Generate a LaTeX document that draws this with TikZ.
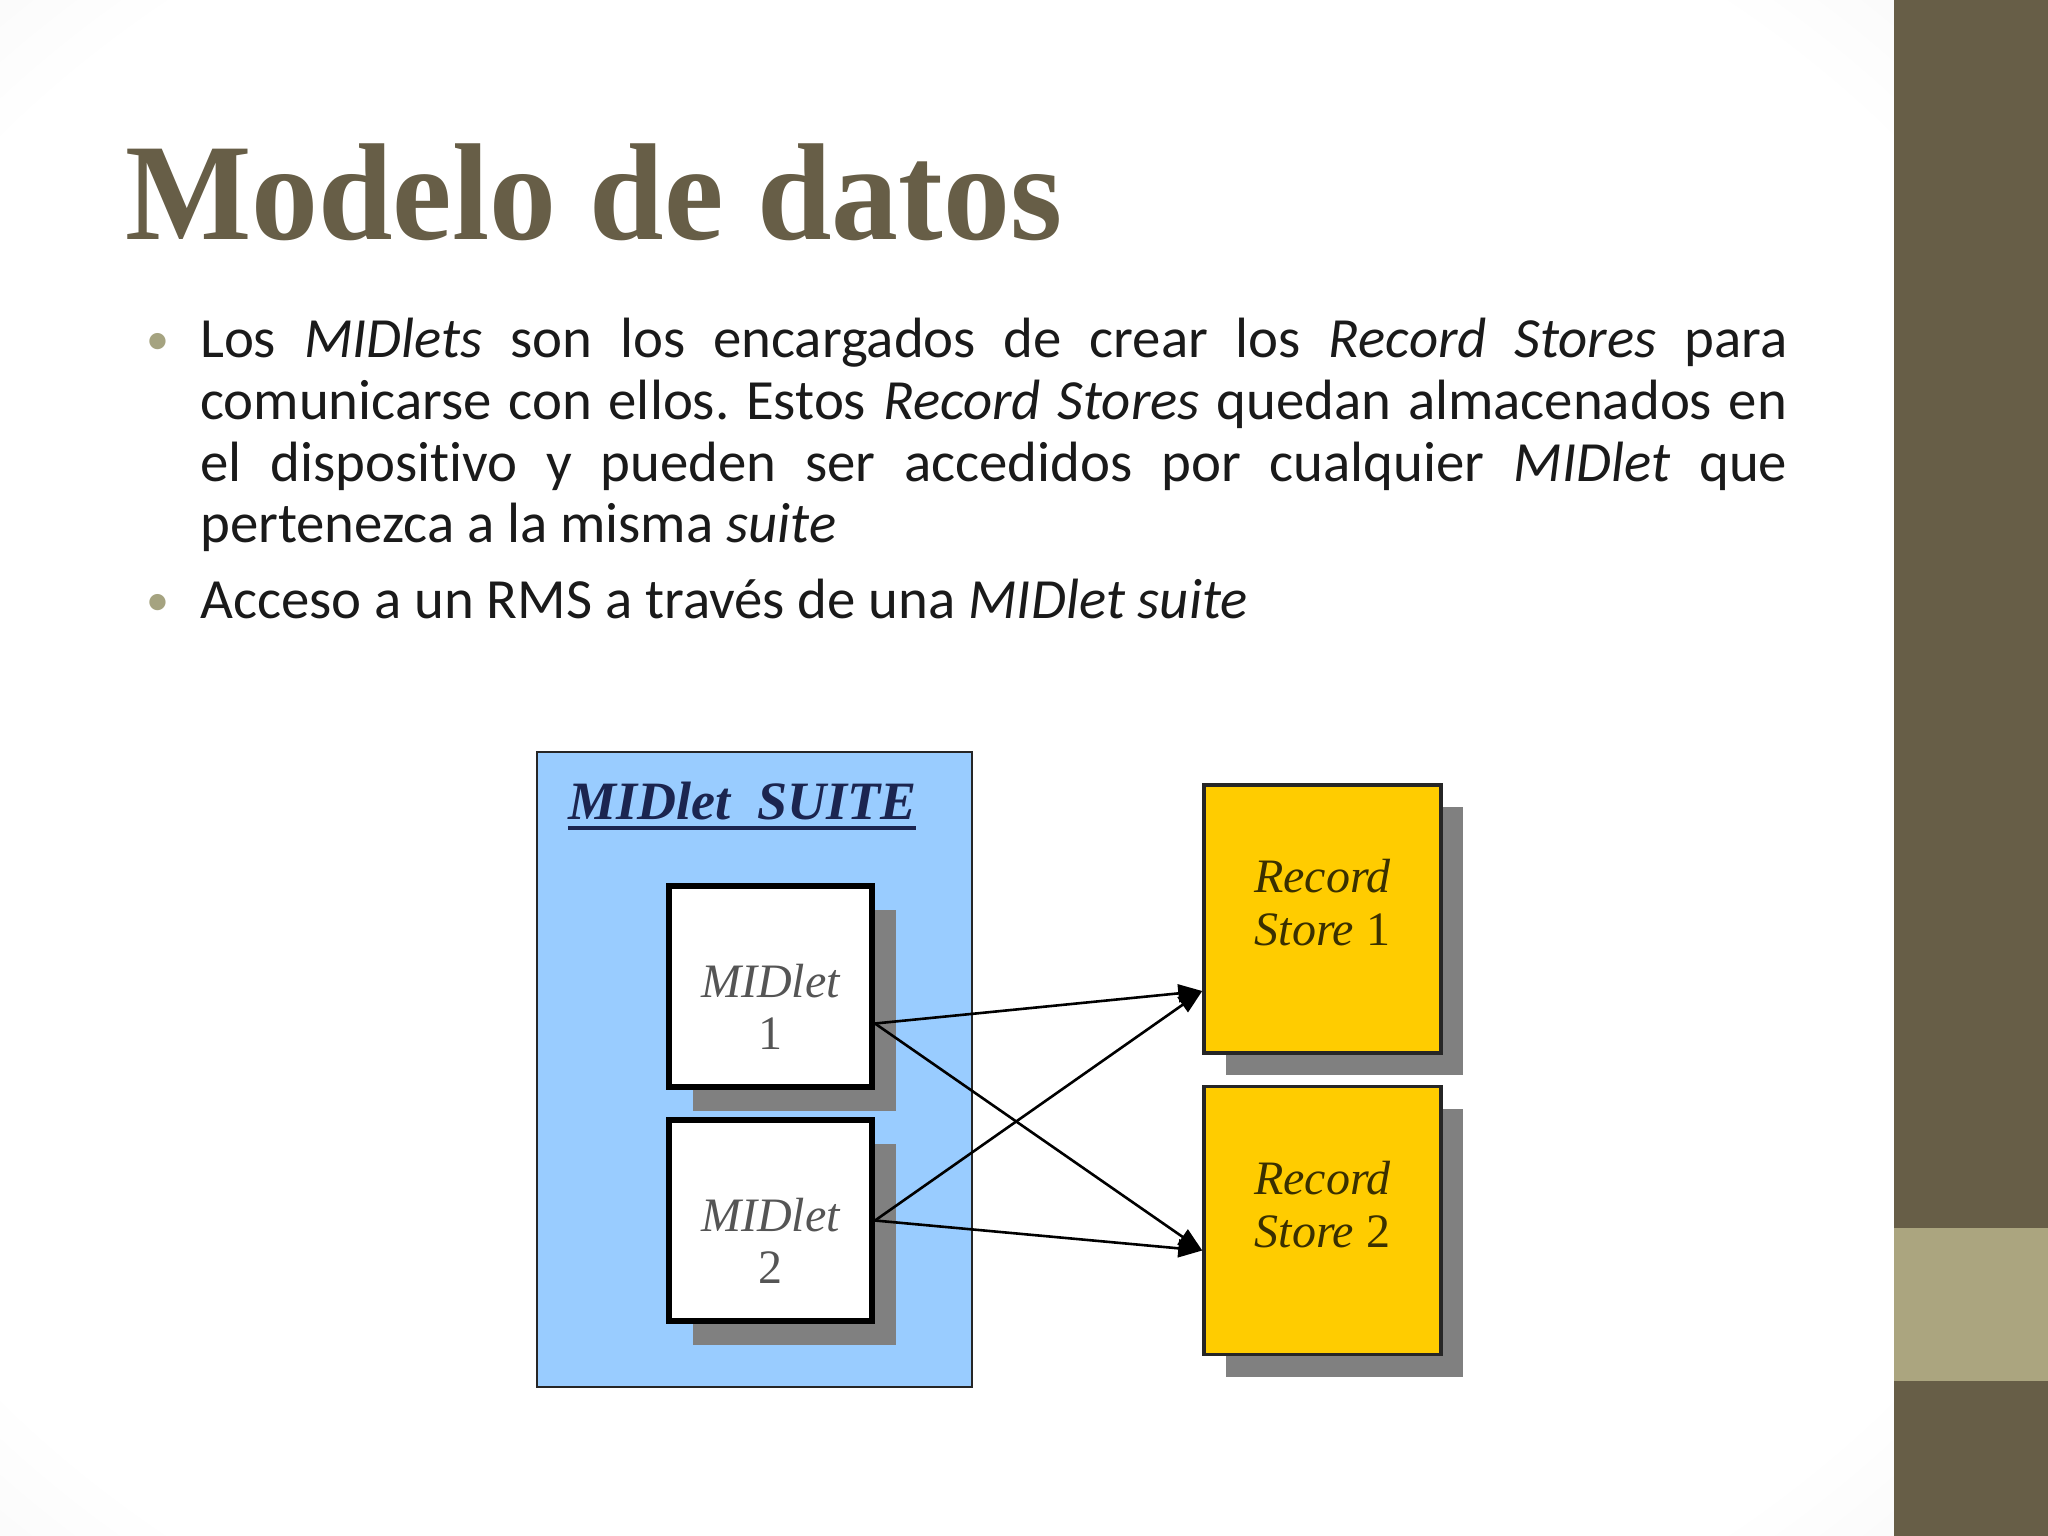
\documentclass[tikz,border=0pt]{standalone}
\usepackage{fontspec}
\usepackage{graphicx}
\setmainfont{Carlito}[Ligatures=NoCommon]
\newfontfamily\titlefont{Liberation Serif}
\newfontfamily\timesfont{Liberation Serif}
\usetikzlibrary{arrows.meta,shadows}
\definecolor{barc}{HTML}{675E47}
\definecolor{bandc}{HTML}{ABA57F}
\definecolor{titlec}{HTML}{675E47}
\definecolor{bulletc}{HTML}{A5A380}
\definecolor{bodyc}{HTML}{1A1A1A}
\definecolor{suiteblue}{HTML}{99CCFF}
\definecolor{rsyellow}{HTML}{FFCC00}
\definecolor{shadowc}{HTML}{808080}
\definecolor{suitetext}{HTML}{1B2550}
\definecolor{midtextc}{HTML}{555555}
\definecolor{rstextc}{HTML}{3A3000}
\pgfdeclareradialshading{vign}{\pgfpoint{0bp}{0bp}}{color(0bp)=(white);color(32bp)=(white);color(72bp)=(black!20)}
\tikzset{
  bodyline/.style={anchor=base west,inner sep=0pt,text=bodyc,font=\fontsize{56.8}{61.5}\selectfont\frenchspacing},
  bul/.style={anchor=base,inner sep=0pt,text=bulletc,font=\fontsize{46}{50}\selectfont},
  midbox/.style={draw=black,line width=6pt,fill=white,minimum width=203pt,minimum height=201pt,
    general shadow={fill=shadowc,shadow xshift=24pt,shadow yshift=-24pt}},
  rsbox/.style={draw=black!85,line width=3.5pt,fill=rsyellow,minimum width=237pt,minimum height=268pt,
    general shadow={fill=shadowc,shadow xshift=22pt,shadow yshift=-22pt}},
  midtext/.style={align=center,text=midtextc,font=\timesfont\itshape\fontsize{48}{52}\selectfont},
  rstext/.style={align=center,text=rstextc,font=\timesfont\itshape\fontsize{48}{53}\selectfont},
  conn/.style={line width=2.6pt,black,-{Triangle[length=24pt,width=18pt]}}
}
\begin{document}
\begin{tikzpicture}[x=1pt,y=-1pt]
\useasboundingbox (0,0) rectangle (2048,1536);
\shade[shading=vign] (0,0) rectangle (1894,1536);
\fill[barc] (1894,0) rectangle (2048,1536);
\fill[bandc] (1894,1228) rectangle (2048,1381);

% title
\node[anchor=base west,inner sep=0pt,text=titlec,font=\titlefont\bfseries\fontsize{138}{140}\selectfont] (title) at (125,239) {\scalebox{0.97}[1]{Modelo de datos}};

% bullets
\node[bul] (b1) at (158,354) {•};
\node[bul] (b2) at (158,615) {•};
\node[bodyline] (l1) at (200,357) {\hbox to 1587pt{Los \textit{MIDlets} son los encargados de crear los \textit{Record Stores} para}};
\node[bodyline] (l2) at (200,419) {\hbox to 1587pt{comunicarse con ellos. Estos \textit{Record Stores} quedan almacenados en}};
\node[bodyline] (l3) at (200,481) {\hbox to 1587pt{el dispositivo y pueden ser accedidos por cualquier \textit{MIDlet} que}};
\node[bodyline] (l4) at (200,542) {pertenezca a la misma \textit{suite}};
\node[bodyline] (l5) at (200,618) {Acceso a un RMS a través de una \textit{MIDlet suite}};

% suite box
\node[draw=black!85,line width=2.8pt,fill=suiteblue,minimum width=435pt,minimum height=635pt] (suite) at (754.5,1069.5) {};
\node[anchor=base west,inner sep=0pt,text=suitetext,font=\timesfont\bfseries\itshape\fontsize{54}{56}\selectfont] (suitelbl) at (568,819) {MIDlet\ \ SUITE};
\draw[suitetext,line width=4.5pt] ([yshift=-9pt]suitelbl.base west) -- ([yshift=-9pt]suitelbl.base east);

% midlets
\node[midbox] (m1) at (770.5,986.5) {};
\node[midtext] (m1t) at ([yshift=-20pt]m1.center) {MIDlet\\\upshape 1};
\node[midbox] (m2) at (770.5,1220.5) {};
\node[midtext] (m2t) at ([yshift=-20pt]m2.center) {MIDlet\\\upshape 2};

% record stores
\node[rsbox] (rs1) at (1322.5,919) {};
\node[rstext] (rs1t) at ([yshift=16pt]rs1.center) {Record\\Store {\upshape 1}};
\node[rsbox] (rs2) at (1322.5,1220.5) {};
\node[rstext] (rs2t) at ([yshift=16pt]rs2.center) {Record\\Store {\upshape 2}};

% connectors
\coordinate (m1o) at ([yshift=-37pt]m1.east);
\coordinate (m2o) at (m2.east);
\coordinate (rs1i) at ([yshift=-72pt]rs1.west);
\coordinate (rs2i) at ([yshift=-30pt]rs2.west);
\draw[conn] (m1o) -- (rs1i);
\draw[conn] (m1o) -- (rs2i);
\draw[conn] (m2o) -- (rs1i);
\draw[conn] (m2o) -- (rs2i);
\end{tikzpicture}
\end{document}
